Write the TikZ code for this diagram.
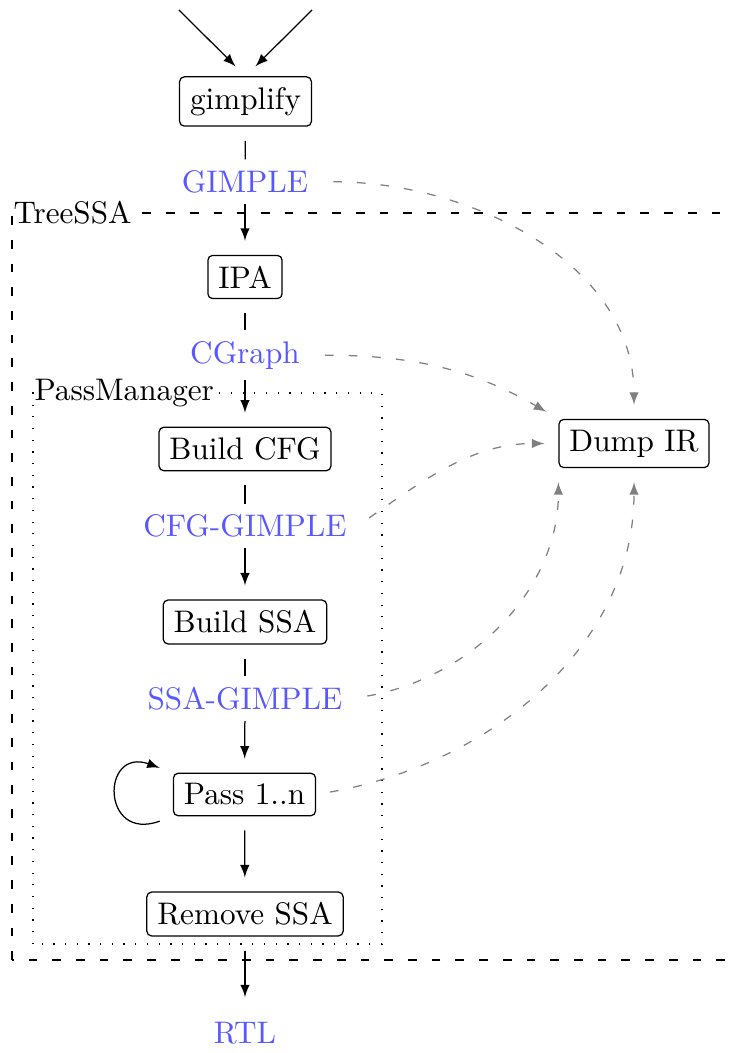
\documentclass[tikz,border=0pt]{standalone}
\usetikzlibrary{arrows}
\definecolor{irblue}{RGB}{88,88,255}
\begin{document}
\begin{tikzpicture}[x=0.3205pt,y=0.3205pt,
  box/.style={draw, rounded corners=1.5pt, inner sep=0.3333em, line width=0.4pt},
  ir/.style={text=irblue, inner sep=0.3333em},
  frametag/.style={fill=white, inner sep=0.3pt, anchor=west},
  flowline/.style={line width=0.4pt},
  flowarrow/.style={line width=0.4pt, -latex},
  dumpedge/.style={gray, line width=0.4pt, dash pattern=on 2.8pt off 4.8pt, -latex,
                   shorten <=4.5pt, shorten >=4.5pt}]
  \useasboundingbox (0,0) rectangle (733,1053);

  % enclosing frames
  \draw[dash pattern=on 2.8pt off 4.8pt, line width=0.4pt] (12,93) rectangle (736,840);
  \node[frametag] (treessa) at (12,840) {TreeSSA};
  \draw[dash pattern=on 0.4pt off 3.35pt, line width=0.4pt] (33,109) rectangle (382,660);
  \node[frametag] (passmgr) at (33,660) {PassManager};

  % pipeline stages and the IR between them
  \node[box] (gimplify) at (245.5,951.5) {gimplify};
  \node[ir]  (gimple)   at (245,871.2)   {GIMPLE};
  \node[box] (ipa)      at (245,776)     {IPA};
  \node[ir]  (cgraph)   at (245,697.8)   {CGraph};
  \node[box] (bcfg)     at (245,604)     {Build CFG};
  \node[ir]  (cfgg)     at (245,527)     {CFG-GIMPLE};
  \node[box] (bssa)     at (245,431)     {Build SSA};
  \node[ir]  (ssag)     at (245,354.5)   {SSA-GIMPLE};
  \node[box] (pass)     at (244.5,258.5) {Pass 1..n};
  \node[box] (rssa)     at (245,139)     {Remove SSA};
  \node[ir]  (rtl)      at (245,19.7)    {RTL};
  \node[box] (dump)     at (634,609.5)   {Dump IR};

  % inputs to gimplify
  \coordinate (src1) at (179,1043);
  \coordinate (src2) at (312,1043);
  \draw[flowarrow, shorten >=4.5pt] (src1) -- (gimplify.north);
  \draw[flowarrow, shorten >=4.5pt] (src2) -- (gimplify.north);

  % main flow
  \draw[flowline, shorten <=4.5pt] (gimplify) -- (gimple);
  \draw[flowarrow, shorten >=4.5pt] (gimple) -- (ipa);
  \draw[flowline, shorten <=4.5pt] (ipa) -- (cgraph);
  \draw[flowarrow, shorten >=4.5pt] (cgraph) -- (bcfg);
  \draw[flowline, shorten <=4.5pt] (bcfg) -- (cfgg);
  \draw[flowarrow, shorten >=4.5pt] (cfgg) -- (bssa);
  \draw[flowline, shorten <=4.5pt] (bssa) -- (ssag);
  \draw[flowarrow, shorten >=4.5pt] (ssag) -- (pass);
  \draw[flowarrow, shorten <=4.5pt, shorten >=4.5pt] (pass) -- (rssa);
  \draw[flowarrow, shorten <=4.5pt, shorten >=4.5pt] (rssa) -- (rtl);

  % repeated passes
  \draw[flowarrow, shorten <=4.5pt, shorten >=4.5pt]
    (pass.south west) to[out=200, in=160, looseness=4.5] (pass.north west);

  % IR dumps
  \draw[dumpedge] (gimple.east) to[out=0, in=90] (dump.north);
  \draw[dumpedge] (cgraph.east) to[out=0, in=150] (dump.north west);
  \draw[dumpedge] (cfgg.east) to[out=35, in=180] (dump.west);
  \draw[dumpedge] (ssag.east) to[out=10, in=-90] (dump.south west);
  \draw[dumpedge] (pass.east) to[out=10, in=-90] (dump.south);
\end{tikzpicture}
\end{document}
